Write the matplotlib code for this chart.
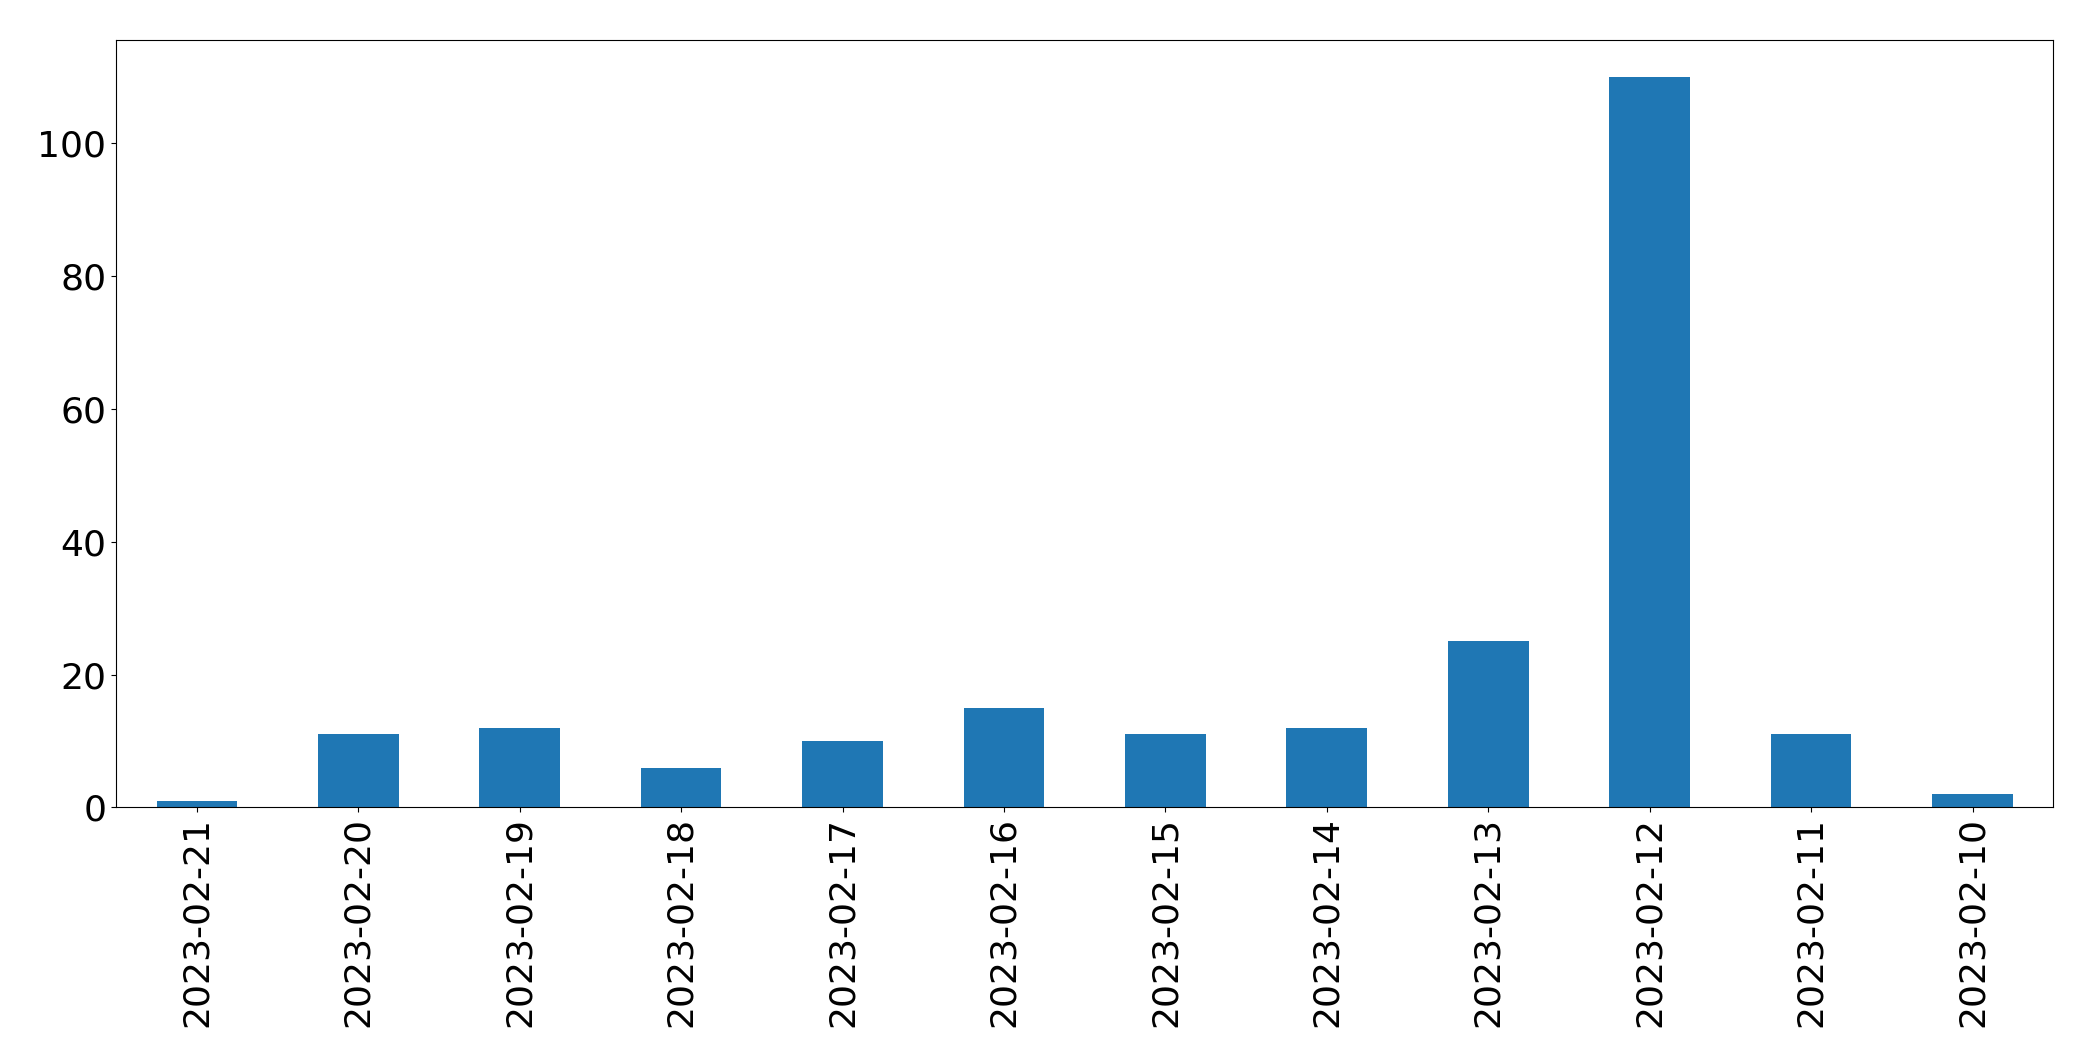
import matplotlib
matplotlib.use("Agg")
import matplotlib.pyplot as plt

dates = ["2023-02-21","2023-02-20","2023-02-19","2023-02-18","2023-02-17","2023-02-16",
         "2023-02-15","2023-02-14","2023-02-13","2023-02-12","2023-02-11","2023-02-10"]
counts = [1, 11, 12, 6, 10, 15, 11, 12, 25, 110, 11, 2]

fig = plt.figure(figsize=(20.93, 10.61), dpi=100)
ax = fig.add_axes([0.0555, 0.239, 0.9255, 0.723])
x = range(len(dates))
ax.bar(x, counts, width=0.5, color="#1f77b4")
ax.set_xticks(list(x))
ax.set_xticklabels(dates, rotation=90)
ax.set_xlim(-0.25 - 0.25, len(dates) - 0.5)
ax.set_ylim(0, 115.5)
ax.tick_params(labelsize=26)
fig.savefig("out.png", dpi=100)
